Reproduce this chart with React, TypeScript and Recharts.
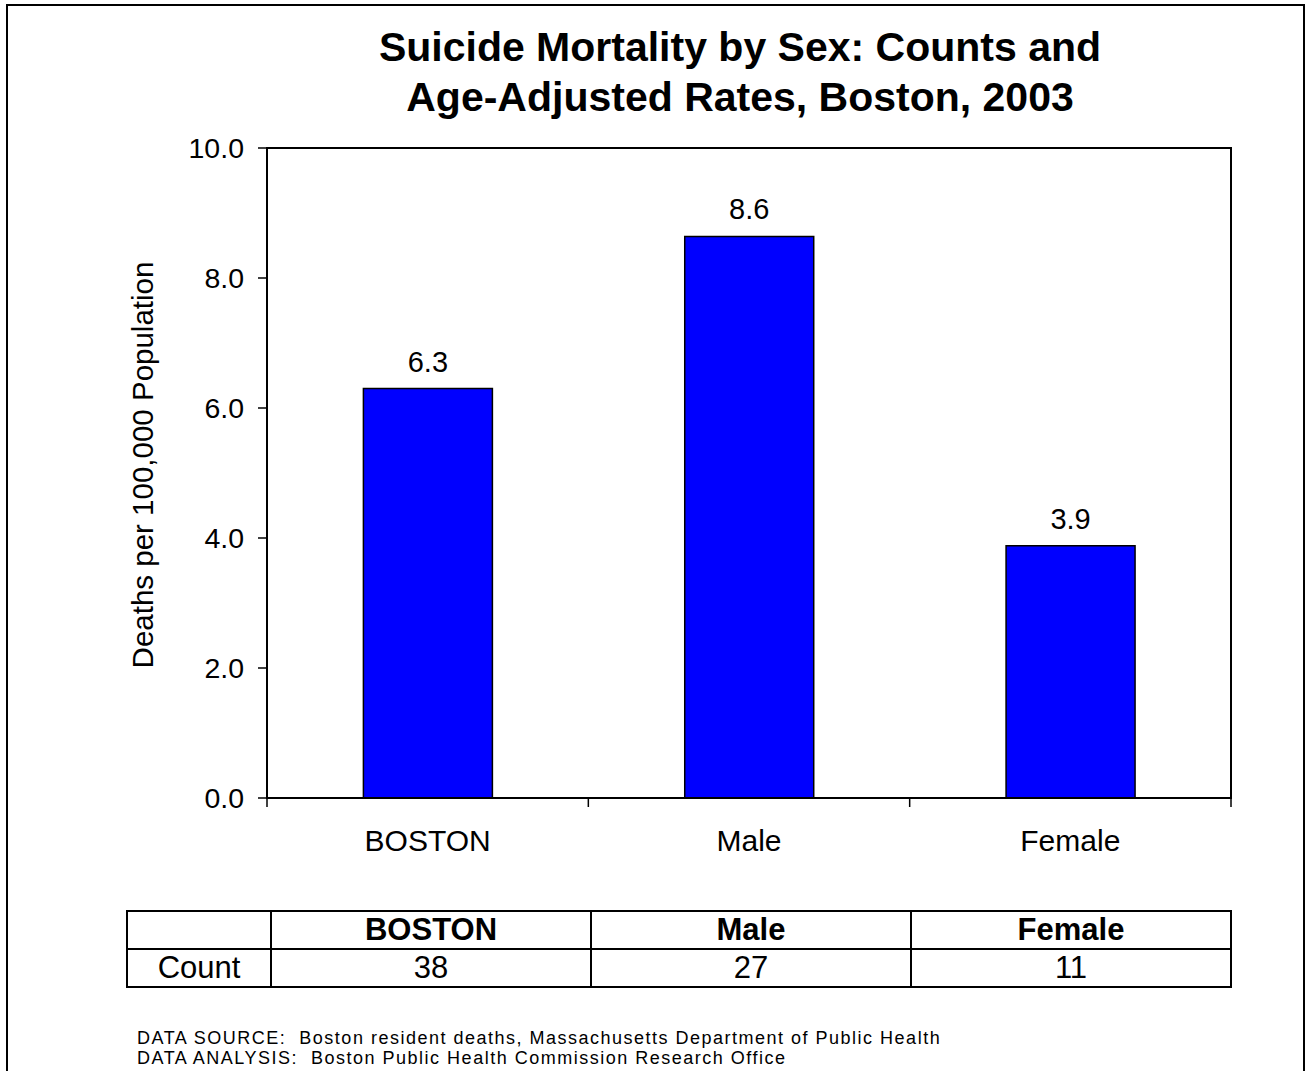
import { Bar, BarChart, LabelList, ReferenceArea, XAxis, YAxis } from "recharts";

const FONT = '"Liberation Sans", Arial, sans-serif';

const categories = ["BOSTON", "Male", "Female"];
const rates = [6.3, 8.64, 3.88];
const counts = [38, 27, 11];
const yTicks = [0, 2, 4, 6, 8, 10];

const chartRows = categories.map((name, i) => ({ name, rate: rates[i] }));

// tick label centred in the band, tick mark on the band's left edge (and right edge for the last one)
function CategoryTick(props: any) {
  const { x, y, payload, index, visibleTicksCount } = props;
  const half = payload?.offset ?? 160.7;
  const isLast = index === (visibleTicksCount ?? categories.length) - 1;
  return (
    <g>
      <line x1={x - half} y1={y} x2={x - half} y2={y + 9} stroke="#000" strokeWidth={1.5} />
      {isLast && <line x1={x + half} y1={y} x2={x + half} y2={y + 9} stroke="#000" strokeWidth={1.5} />}
      <text x={x} y={y + 53} textAnchor="middle" fontSize={30} fontFamily={FONT} fill="#000">
        {payload.value}
      </text>
    </g>
  );
}

export default function App() {
  return (
    <div style={{ position: "absolute", left: 0, top: 0, width: 1305, height: 1071, background: "#fff", overflow: "hidden", fontFamily: FONT }}>
      <div style={{ position: "absolute", left: 6, top: 4, width: 1295, height: 1100, border: "2px solid #000" }} />

      <div style={{ position: "absolute", left: 0, top: 22, width: 1480, textAlign: "center", fontWeight: "bold", fontSize: 41, lineHeight: "50px" }}>
        Suicide Mortality by Sex: Counts and
        <br />
        Age-Adjusted Rates, Boston, 2003
      </div>

      <div
        style={{
          position: "absolute",
          left: 143,
          top: 465,
          transform: "translate(-50%, -50%) rotate(-90deg)",
          whiteSpace: "nowrap",
          fontSize: 29.5,
        }}
      >
        Deaths per 100,000 Population
      </div>

      <div style={{ position: "absolute", left: 0, top: 0 }}>
        <BarChart width={1305} height={860} data={chartRows} margin={{ top: 148, right: 74, bottom: 2, left: 117 }} barCategoryGap="30%">
          <XAxis
            xAxisId="main"
            dataKey="name"
            height={60}
            tickSize={0}
            tickMargin={0}
            tickLine={false}
            axisLine={{ stroke: "#000", strokeWidth: 2 }}
            tick={<CategoryTick />}
            interval={0}
          />
          <YAxis
            yAxisId="left"
            width={150}
            domain={[0, 10]}
            ticks={yTicks}
            interval={0}
            tickSize={9}
            tickMargin={14}
            tickFormatter={(v: number) => v.toFixed(1)}
            tick={{ fill: "#000", fontSize: 28.5, fontFamily: FONT }}
            tickLine={{ stroke: "#000", strokeWidth: 1.5 }}
            axisLine={{ stroke: "#000", strokeWidth: 2 }}
          />
          <ReferenceArea xAxisId="main" yAxisId="left" y1={0} y2={10} fill="none" stroke="#000" strokeWidth={2} ifOverflow="visible" />
          <Bar xAxisId="main" yAxisId="left" dataKey="rate" fill="#0000FF" stroke="#000" strokeWidth={1.5} isAnimationActive={false}>
            <LabelList
              dataKey="rate"
              position="top"
              offset={17}
              formatter={(v: any) => Number(v).toFixed(1)}
              style={{ fill: "#000", fontSize: 29, fontFamily: FONT }}
            />
          </Bar>
        </BarChart>
      </div>

      <table
        style={{
          position: "absolute",
          left: 126,
          top: 910,
          borderCollapse: "collapse",
          fontSize: 31,
          fontFamily: FONT,
          tableLayout: "fixed",
        }}
      >
        <colgroup>
          <col style={{ width: 144 }} />
          {categories.map((c) => (
            <col key={c} style={{ width: 320 }} />
          ))}
        </colgroup>
        <tbody>
          <tr style={{ height: 38 }}>
            <td style={{ border: "2px solid #000", padding: 0 }} />
            {categories.map((c) => (
              <td key={c} style={{ border: "2px solid #000", padding: 0, textAlign: "center", fontWeight: "bold", lineHeight: "34px" }}>
                {c}
              </td>
            ))}
          </tr>
          <tr style={{ height: 38 }}>
            <td style={{ border: "2px solid #000", padding: 0, textAlign: "center", lineHeight: "34px" }}>Count</td>
            {counts.map((n, i) => (
              <td key={categories[i]} style={{ border: "2px solid #000", padding: 0, textAlign: "center", lineHeight: "34px" }}>
                {n}
              </td>
            ))}
          </tr>
        </tbody>
      </table>

      <div style={{ position: "absolute", left: 137, top: 1029, fontSize: 18, letterSpacing: 1.5, lineHeight: "19.5px", whiteSpace: "pre" }}>
        {"DATA SOURCE:  Boston resident deaths, Massachusetts Department of Public Health\nDATA ANALYSIS:  Boston Public Health Commission Research Office"}
      </div>
    </div>
  );
}
